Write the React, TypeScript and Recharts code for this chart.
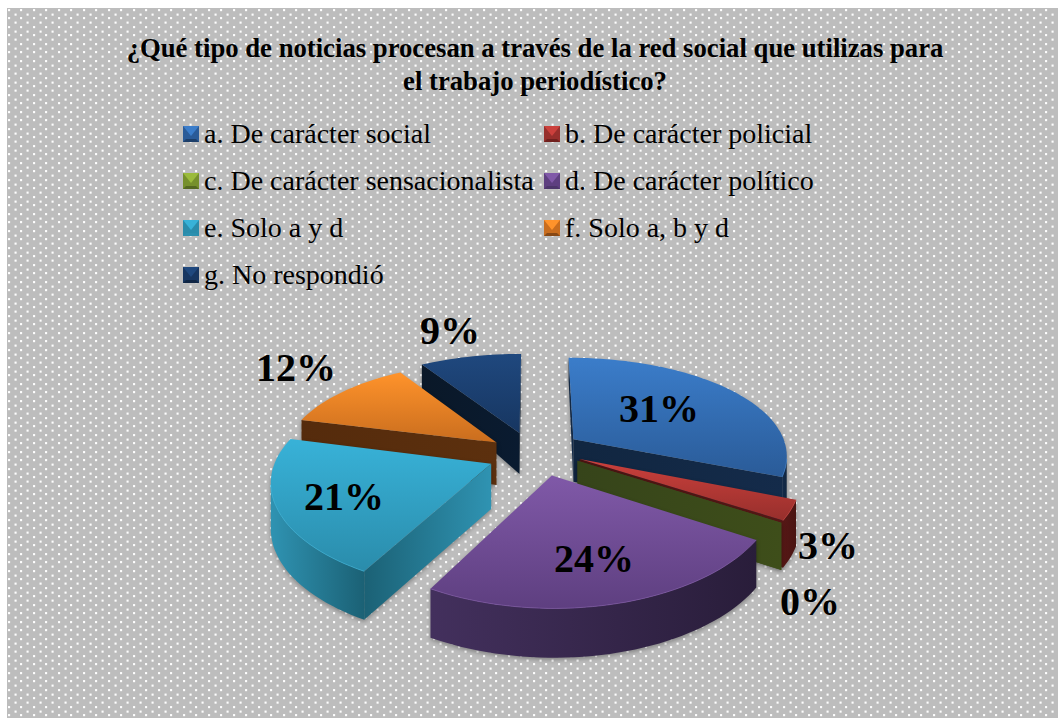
import { PieChart, Pie, Legend } from "recharts";

const sliceNames = ["a", "b", "c", "d", "e", "f", "g"];
const sliceLabels = [
  "a. De carácter social",
  "b. De carácter policial",
  "c. De carácter sensacionalista",
  "d. De carácter político",
  "e. Solo a y d",
  "f. Solo a, b y d",
  "g. No respondió",
];
const sliceValues = [31, 3, 0, 24, 21, 12, 9];
const data = sliceNames.map((name, i) => ({ name, label: sliceLabels[i], value: sliceValues[i] }));

// drawn back to front, the pie is faked 3D so order matters
const paintOrder = ["g", "f", "a", "b", "c", "e", "d"];

const topLight: Record<string, string> = { a: "#3b7dca", b: "#cb403c", c: "#9bbb3c", d: "#8059a8", e: "#38b2d8", f: "#ff932b", g: "#1f487e" };
const topDark: Record<string, string> = { a: "#2a5b98", b: "#972f2c", c: "#76902c", d: "#5e3f80", e: "#2a8cab", f: "#c96d1e", g: "#173661" };
const wallLight: Record<string, string> = { a: "#142b4a", b: "#561816", c: "#3e4e1a", d: "#43305d", e: "#2f93b2", f: "#5c300e", g: "#0a1b30" };
const wallDark: Record<string, string> = { a: "#112640", b: "#4a1412", c: "#36441a", d: "#291d3a", e: "#1b6175", f: "#552b0c", g: "#0a1828" };

const labelOffset: Record<string, number[]> = {
  a: [123, -45],
  b: [292, 92],
  c: [274, 148],
  d: [58, 105],
  e: [-192, 43],
  f: [-240, -86],
  g: [-86, -123],
};

// small per slice corrections, the perspective model is only approximate
const sliceNudge: Record<string, number[]> = {
  a: [0, -2],
  b: [2, -4],
  c: [2, -4],
  d: [4, 1],
  e: [-2, 2],
  f: [-3, 2],
  g: [-4, 0],
};

const EXPLODE = 0.215;
const X_SCALE = 2.14;
const PERSP_X = 0.15;
const PERSP_Y = 0.18;
const WALL = 45;
const RAD = Math.PI / 180;

const project = (ux: number, uy: number, cx: number, cy: number, r: number) => ({
  x: cx + (r * X_SCALE * ux) / (1 - PERSP_X * uy),
  y: cy + (r * uy) / (1 - PERSP_Y * uy),
});

const wallHeight = (uy: number) => (uy < 0 ? WALL * (1 + 0.45 * uy) : WALL * (1 + 0.08 * uy));

const toPath = (pts: { x: number; y: number }[]) =>
  "M" + pts.map((p) => `${p.x.toFixed(1)},${p.y.toFixed(1)}`).join("L") + "Z";

function Slice3D(props: any) {
  const { cx, cy, outerRadius, startAngle, endAngle, midAngle, payload, layer } = props;
  const name = payload?.name ?? props.name;
  if (name !== layer) return <g />;

  const from = 90 - startAngle;
  const to = 90 - endAngle;
  const mid = (90 - midAngle) * RAD;
  const ox = EXPLODE * Math.sin(mid);
  const oy = -EXPLODE * Math.cos(mid);

  const unit: number[][] = [];
  const steps = Math.max(1, Math.ceil((to - from) / 2));
  for (let i = 0; i <= steps; i++) {
    const t = (from + ((to - from) * i) / steps) * RAD;
    unit.push([ox + Math.sin(t), oy - Math.cos(t)]);
  }
  const top = (u: number[]) => project(u[0], u[1], cx, cy, outerRadius);
  const low = (u: number[]) => {
    const p = top(u);
    return { x: p.x, y: p.y + wallHeight(u[1]) };
  };
  const apex = [ox, oy];
  const first = unit[0];
  const last = unit[unit.length - 1];

  const quad = (p: number[], q: number[]) => toPath([top(p), top(q), low(q), low(p)]);
  const faces: string[] = [];
  if (top(first).x < top(apex).x || to === from) faces.push(quad(apex, first));
  if (top(apex).x < top(last).x) faces.push(quad(last, apex));

  // only the part of the rim that runs right to left faces us
  const rim = unit.filter((u, i) => {
    const next = unit[i + 1] ?? u;
    const prev = unit[i - 1] ?? u;
    return top(next).x < top(prev).x;
  });
  const rimPath = rim.length > 1 ? toPath([...rim.map(top), ...[...rim].reverse().map(low)]) : null;
  const rimLine = rim.length > 1 ? "M" + rim.map(top).map((p) => `${p.x.toFixed(1)},${p.y.toFixed(1)}`).join("L") : null;
  const [nx, ny] = sliceNudge[name];

  return (
    <g transform={`translate(${nx},${ny})`} style={{ filter: "drop-shadow(0px 2px 2px rgba(0,0,0,0.3))" }}>
      <defs>
        <linearGradient id={`top-${name}`} x1="0" y1="0" x2="0" y2="1">
          <stop offset="0%" stopColor={topLight[name]} />
          <stop offset="100%" stopColor={topDark[name]} />
        </linearGradient>
        <linearGradient id={`wall-${name}`} x1="0" y1="0" x2="1" y2="0">
          <stop offset="0%" stopColor={wallLight[name]} />
          <stop offset="100%" stopColor={wallDark[name]} />
        </linearGradient>
        <linearGradient id={`face-${name}`} x1="0" y1="0" x2="1" y2="0">
          <stop offset="0%" stopColor={wallDark[name]} />
          <stop offset="100%" stopColor={wallLight[name]} />
        </linearGradient>
      </defs>
      {faces.map((d, i) => (
        <path key={i} d={d} fill={`url(#face-${name})`} />
      ))}
      {rimPath && <path d={rimPath} fill={`url(#wall-${name})`} />}
      {to > from && <path d={toPath([top(apex), ...unit.map(top)])} fill={`url(#top-${name})`} />}
      {rimLine && <path d={rimLine} fill="none" stroke={topLight[name]} strokeOpacity={0.7} strokeWidth={1} />}
    </g>
  );
}

function renderPercent(props: any) {
  const { cx, cy, value, payload } = props;
  const name = payload?.name ?? props.name;
  const [dx, dy] = labelOffset[name];
  return (
    <text
      x={cx + dx}
      y={cy + dy}
      textAnchor="middle"
      dominantBaseline="central"
      fontFamily="Liberation Serif"
      fontWeight="bold"
      fontSize={40}
      fill="#000"
    >
      {value}%
    </text>
  );
}

function Swatch({ name }: { name: string }) {
  return (
    <svg width={16} height={16} style={{ flex: "none" }}>
      <rect width={16} height={16} fill={topDark[name]} />
      <polygon points="0,0 16,0 8,10" fill={topLight[name]} />
      <polygon points="0,16 16,16 13,13 3,13" fill={wallLight[name]} fillOpacity={0.6} />
    </svg>
  );
}

function LegendBlock() {
  return (
    <div style={{ position: "relative", width: 700, height: 190 }}>
      {data.map((d, i) => (
        <div
          key={d.name}
          style={{
            position: "absolute",
            left: i % 2 === 0 ? 0 : 361,
            top: Math.floor(i / 2) * 47,
            height: 30,
            display: "flex",
            alignItems: "center",
            gap: 5,
            whiteSpace: "nowrap",
            fontFamily: "Liberation Serif",
            fontSize: 28,
            color: "#000",
          }}
        >
          <Swatch name={d.name} />
          {d.label}
        </div>
      ))}
    </div>
  );
}

const pattern =
  "url(\"data:image/svg+xml,%3Csvg xmlns='http://www.w3.org/2000/svg' width='12.5' height='8.5'%3E%3Crect x='1' y='1' width='2' height='2' fill='%23fff'/%3E%3Crect x='7.25' y='5.25' width='2' height='2' fill='%23fff'/%3E%3C/svg%3E\")";

export default function App() {
  return (
    <div style={{ position: "absolute", left: 0, top: 0, width: 1058, height: 718, background: "#fff", overflow: "hidden" }}>
      <div
        style={{
          position: "absolute",
          left: 7,
          top: 8,
          width: 1051,
          height: 710,
          backgroundColor: "#bdbdbd",
          backgroundImage: pattern,
        }}
      />
      <PieChart width={1058} height={718} style={{ position: "absolute", left: 0, top: 0 }} margin={{ top: 0, right: 0, bottom: 0, left: 0 }}>
        <text x={535} y={57} textAnchor="middle" fontFamily="Liberation Serif" fontWeight="bold" fontSize={26.7} fill="#000">
          ¿Qué tipo de noticias procesan a través de la red social que utilizas para
        </text>
        <text x={535} y={90} textAnchor="middle" fontFamily="Liberation Serif" fontWeight="bold" fontSize={26.7} fill="#000">
          el trabajo periodístico?
        </text>
        {paintOrder.map((layer, i) => (
          <Pie
            key={layer}
            data={data}
            dataKey="value"
            nameKey="name"
            cx={536}
            cy={453}
            outerRadius={100}
            startAngle={90}
            endAngle={-270}
            legendType={i === 0 ? "square" : "none"}
            stroke="none"
            isAnimationActive={false}
            labelLine={false}
            label={i === paintOrder.length - 1 ? renderPercent : false}
            shape={(p: any) => <Slice3D {...p} layer={layer} />}
          />
        ))}
        <Legend
          layout="horizontal"
          verticalAlign="middle"
          align="center"
          content={() => <LegendBlock />}
          wrapperStyle={{ top: 119, left: 183, width: 700 }}
        />
      </PieChart>
    </div>
  );
}
